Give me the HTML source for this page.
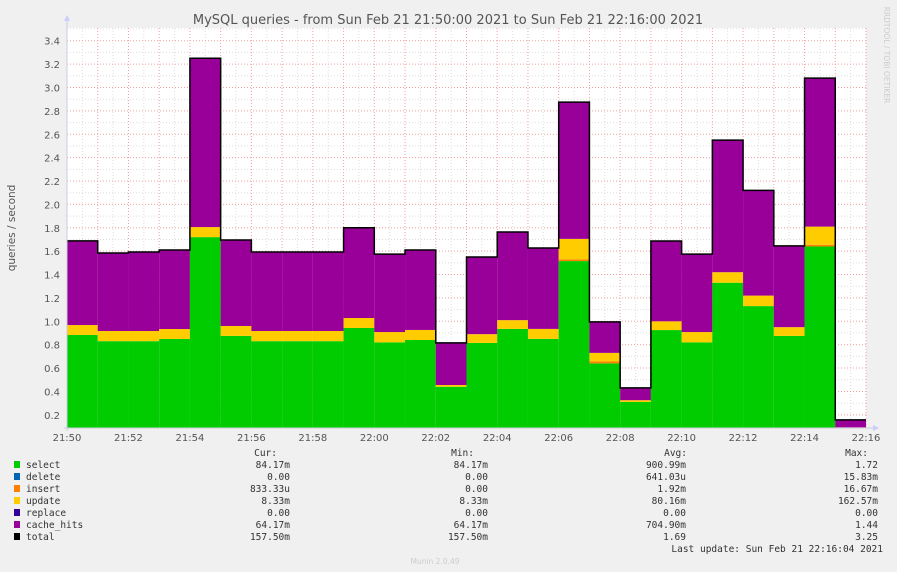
<!DOCTYPE html>
<html><head><meta charset="utf-8"><style>
html,body{margin:0;padding:0;background:#f0f0f0;}
svg{display:block;font-family:"DejaVu Sans","Liberation Sans",sans-serif;}
.mono{font-family:"DejaVu Sans Mono","Liberation Mono",monospace;font-size:9.5px;fill:#333;}
</style></head><body>
<svg id="chart" width="897" height="572" viewBox="0 0 897 572">
<rect x="0" y="0" width="897" height="572" fill="#f0f0f0"/>
<text x="448" y="24" text-anchor="middle" font-size="13" fill="#555">MySQL queries - from Sun Feb 21 21:50:00 2021 to Sun Feb 21 22:16:00 2021</text>
<text transform="translate(15,228) rotate(-90)" text-anchor="middle" font-size="10.5" fill="#555">queries / second</text>
<text transform="translate(884,55) rotate(90)" text-anchor="middle" font-size="7.5" fill="#ccc">RRDTOOL / TOBI OETIKER</text>
<g id="plot"></g>
<g id="legend"></g>
<text x="435" y="564" text-anchor="middle" font-size="7.5" fill="#ccc">Munin 2.0.49</text>
</svg>
<script>
const categories=["21:50","21:51","21:52","21:53","21:54","21:55","21:56","21:57","21:58","21:59","22:00","22:01","22:02","22:03","22:04","22:05","22:06","22:07","22:08","22:09","22:10","22:11","22:12","22:13","22:14","22:15"];
const selectVals=[0.883,0.83,0.83,0.849,1.72,0.875,0.83,0.83,0.83,0.943,0.82,0.84,0.44,0.815,0.935,0.85,1.515,0.64,0.31,0.925,0.82,1.33,1.13,0.875,1.64,0.084];
const insertVals=[0,0,0,0,0,0,0,0,0,0,0,0,0,0,0,0,0.015,0.017,0,0,0,0,0,0,0.015,0.001];
const updateVals=[0.085,0.087,0.087,0.085,0.086,0.085,0.087,0.087,0.087,0.085,0.088,0.086,0.015,0.075,0.075,0.085,0.175,0.073,0.015,0.075,0.088,0.09,0.09,0.075,0.155,0.008];
const cacheVals=[0.72,0.667,0.676,0.676,1.444,0.735,0.676,0.676,0.676,0.772,0.667,0.684,0.36,0.66,0.754,0.692,1.17,0.265,0.105,0.687,0.667,1.13,0.9,0.695,1.27,0.064];
const yTicks=[0.2,0.4,0.6,0.8,1.0,1.2,1.4,1.6,1.8,2.0,2.2,2.4,2.6,2.8,3.0,3.2,3.4];
const xTickLabels=["21:50","21:52","21:54","21:56","21:58","22:00","22:02","22:04","22:06","22:08","22:10","22:12","22:14","22:16"];
const NS="http://www.w3.org/2000/svg";
const X0=67,X1=866,Y0=428,YT=28;
const minPx=(X1-X0)/26;
function xs(i){return X0+i*minPx;}
function ys(v){return 438.2-v*116.9;}
const plot=document.getElementById('plot');
function mk(tag,attrs,parent){const e=document.createElementNS(NS,tag);for(const k in attrs)e.setAttribute(k,attrs[k]);(parent||plot).appendChild(e);return e;}
let r=mk('rect',{x:X0,y:YT,width:X1-X0,height:Y0-YT,fill:'#fff'});


// minor grid
for(let v=0.1;v<3.55;v+=0.2){const y=ys(v);if(y<YT||y>Y0)continue;let l=mk('line',{x1:X0,x2:X1,y1:y,y2:y,stroke:'#ddd','stroke-dasharray':'1,2','stroke-width':1});

}
for(let i=0;i<26;i++){const x=xs(i+0.5);let l=mk('line',{x1:x,x2:x,y1:YT,y2:Y0,stroke:'#ddd','stroke-dasharray':'1,2'});

}
// major grid
yTicks.forEach(v=>{const y=ys(v);let l=mk('line',{x1:X0,x2:X1,y1:y,y2:y,stroke:'#f2a0a0','stroke-dasharray':'1,2'});


let t=mk('text',{x:60,y:y+4,'text-anchor':'end','font-size':'10',fill:'#555'});t.textContent=v.toFixed(1);

});
for(let i=1;i<=26;i++){const x=xs(i);let l=mk('line',{x1:x,x2:x,y1:YT,y2:Y0,stroke:'#f2a0a0','stroke-dasharray':'1,2'});

}
xTickLabels.forEach((s,k)=>{const x=xs(k*2);let t=mk('text',{x:x,y:441,'text-anchor':'middle','font-size':'10',fill:'#555'});t.textContent=s;

});
// bars
const clip=mk('clipPath',{id:'pc'});mk('rect',{x:X0,y:YT,width:X1-X0,height:Y0-YT},clip);
const g=mk('g',{'clip-path':'url(#pc)'});
const series=[[selectVals,'#00cc00','select'],[insertVals,'#ff7f00','insert'],[updateVals,'#ffcc00','update'],[cacheVals,'#990099','cache-hits']];
let totals=[];
categories.forEach((c,i)=>{let base=0;series.forEach(([arr,col,nm])=>{const v=arr[i];const top=base+v;if(v>0){let b=mk('rect',{x:xs(i),y:ys(top),width:minPx,height:ys(base)-ys(top),fill:col},g);

}base=top;});totals.push(base);});
let d='';totals.forEach((t,i)=>{const y=ys(t);d+=(i==0?'M':'L')+xs(i)+','+y+'L'+xs(i+1)+','+y;});
let tl=mk('path',{d:d,fill:'none',stroke:'#000','stroke-width':1.5},g);


// axes
let ax=mk('line',{x1:X0,x2:X0,y1:Y0+3,y2:YT-8,stroke:'#ccd'});


let ay=mk('line',{x1:X0-3,x2:X1+8,y1:Y0,y2:Y0,stroke:'#ccd'});


mk('path',{d:`M${X0-3},${YT-7}L${X0+3},${YT-7}L${X0},${YT-13}Z`,fill:'#ccf'});
mk('path',{d:`M${X1+7},${Y0-3}L${X1+7},${Y0+3}L${X1+13},${Y0}Z`,fill:'#ccf'});
// legend
const L=document.getElementById('legend');
const heads=[['Cur:',277],['Min:',474],['Avg:',687],['Max:',868]];
heads.forEach(([h,x])=>{let t=mk('text',{x:x,y:456,'text-anchor':'end',class:'mono'},L);t.textContent=h;

});
const rows=[['select','#00cc00','84.17m','84.17m','900.99m','1.72'],['delete','#0066b3','0.00','0.00','641.03u','15.83m'],['insert','#ff7f00','833.33u','0.00','1.92m','16.67m'],['update','#ffcc00','8.33m','8.33m','80.16m','162.57m'],['replace','#330099','0.00','0.00','0.00','0.00'],['cache_hits','#990099','64.17m','64.17m','704.90m','1.44'],['total','#000000','157.50m','157.50m','1.69','3.25']];
const colX=[290,488,686,878];
rows.forEach((rw,k)=>{const y=468+k*12;let s=mk('rect',{x:14,y:y-7,width:6,height:7,fill:rw[1]},L);


let t=mk('text',{x:26,y:y,class:'mono'},L);t.textContent=rw[0];


for(let j=0;j<4;j++){let v=mk('text',{x:colX[j],y:y,'text-anchor':'end',class:'mono'},L);v.textContent=rw[2+j];

}});
let lu=mk('text',{x:883,y:552,'text-anchor':'end',class:'mono'},L);lu.textContent='Last update: Sun Feb 21 22:16:04 2021';


</script>
</body></html>
